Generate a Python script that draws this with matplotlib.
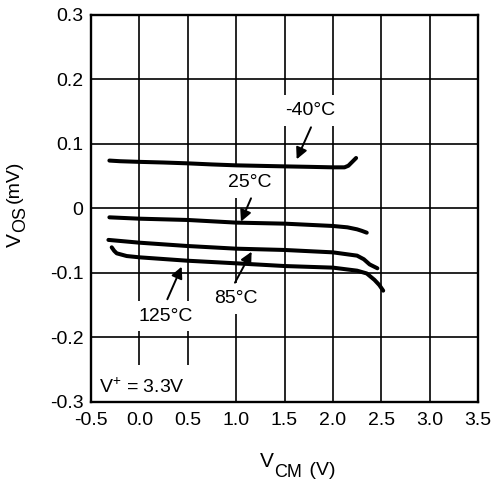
import matplotlib
matplotlib.use('Agg')
import matplotlib.pyplot as plt

plt.rcParams['font.family'] = ['Liberation Sans', 'DejaVu Sans']
plt.rcParams['mathtext.default'] = 'regular'

# curves (VCM in V, VOS in mV)
x_m40 = [-0.31, -0.2, 0.0, 0.25, 0.5, 0.75, 1.0, 1.25, 1.5, 1.75, 2.0, 2.12, 2.16, 2.2, 2.24]
y_m40 = [0.074, 0.073, 0.072, 0.071, 0.0697, 0.068, 0.0666, 0.0658, 0.065, 0.0643, 0.0635, 0.0635, 0.066, 0.072, 0.078]

x_25 = [-0.31, 0.0, 0.5, 1.0, 1.5, 2.0, 2.15, 2.25, 2.3, 2.35]
y_25 = [-0.014, -0.0161, -0.0181, -0.0222, -0.0238, -0.0274, -0.0295, -0.0326, -0.035, -0.0378]

x_85 = [-0.32, 0.0, 0.49, 1.0, 1.5, 2.0, 2.25, 2.32, 2.38, 2.46]
y_85 = [-0.049, -0.0533, -0.0584, -0.0626, -0.0646, -0.0683, -0.0734, -0.079, -0.087, -0.093]

x_125 = [-0.286, -0.26, -0.234, -0.131, 0.0, 0.49, 1.0, 1.5, 2.0, 2.25, 2.35, 2.43, 2.48, 2.52]
y_125 = [-0.0605, -0.066, -0.0698, -0.074, -0.076, -0.0812, -0.0853, -0.0895, -0.092, -0.0967, -0.101, -0.111, -0.119, -0.1277]

xticks = [-0.5, 0.0, 0.5, 1.0, 1.5, 2.0, 2.5, 3.0, 3.5]
xtick_labels = ['-0.5', '0.0', '0.5', '1.0', '1.5', '2.0', '2.5', '3.0', '3.5']
yticks = [-0.3, -0.2, -0.1, 0.0, 0.1, 0.2, 0.3]
ytick_labels = ['-0.3', '-0.2', '-0.1', '0', '0.1', '0.2', '0.3']

fig = plt.figure(figsize=(4.95, 4.8), dpi=100)
ax = fig.add_axes([91/495, 1 - 401.8/480, 387/495, 387/480])

for xs, ys in [(x_m40, y_m40), (x_25, y_25), (x_85, y_85), (x_125, y_125)]:
    ax.plot(xs, ys, color='black', lw=2.9, solid_capstyle='round', zorder=2)

ax.set_xlim(-0.5, 3.5)
ax.set_ylim(-0.3, 0.3)
ax.set_xticks(xticks)
ax.set_xticklabels(xtick_labels)
ax.set_yticks(yticks)
ax.set_yticklabels(ytick_labels)
ax.tick_params(length=0, labelsize=14, pad=5.5)
ax.tick_params(axis='x', pad=7)
ax.set_axisbelow(True)
ax.grid(True, color='black', lw=1.2)
for s in ax.spines.values():
    s.set_linewidth(1.7)
    s.set_zorder(2.5)

box = dict(facecolor='white', edgecolor='none', boxstyle='square,pad=0.35')
tkw = dict(fontsize=14, ha='center', va='center', bbox=box, zorder=1)
arr = dict(arrowstyle='-|>', color='black', lw=1.4, mutation_scale=17, shrinkA=0, shrinkB=0)

ax.text(1.77, 0.152, '-40°C', **tkw)
ax.annotate('', xy=(1.626, 0.076), xytext=(1.774, 0.1256), arrowprops=arr)

ax.text(1.143, 0.04, '25°C', **tkw)
ax.annotate('', xy=(1.05, -0.0207), xytext=(1.154, 0.0155), arrowprops=arr)

ax.text(1.0, -0.1395, '85°C', **tkw)
ax.annotate('', xy=(1.16, -0.0673), xytext=(0.988, -0.1153), arrowprops=arr)

ax.text(0.275, -0.167, '125°C', **tkw)
ax.annotate('', xy=(0.437, -0.0905), xytext=(0.289, -0.141), arrowprops=arr)

ax.text(-0.417, -0.2766, 'V$^{+}$ = 3.3V', fontsize=14, ha='left', va='center', zorder=1,
        bbox=dict(facecolor='white', edgecolor='none', boxstyle='square,pad=0.6'))

# axis labels built from pieces so the subscript stays large
tv = fig.text(260/495, 1 - 466.7/480, 'V', fontsize=15, ha='left', va='baseline')
tcm = ax.annotate('CM', xy=(1, 0), xycoords=tv, xytext=(0, -6), textcoords='offset pixels',
                  fontsize=13, ha='left', va='baseline', annotation_clip=False)
ax.annotate(' (V)', xy=(1, 0), xycoords=tcm, xytext=(2, 6), textcoords='offset pixels',
            fontsize=14, ha='left', va='baseline', annotation_clip=False)

fig.text(15/495, 1 - 240.5/480, 'V', fontsize=15, rotation=90, ha='center', va='center')
fig.text(20.5/495, 1 - 218.5/480, 'OS', fontsize=13, rotation=90, ha='center', va='center')
fig.text(14/495, 1 - 181.5/480, '(mV)', fontsize=14, rotation=90, ha='center', va='center')

fig.savefig('out.png', dpi=100)
